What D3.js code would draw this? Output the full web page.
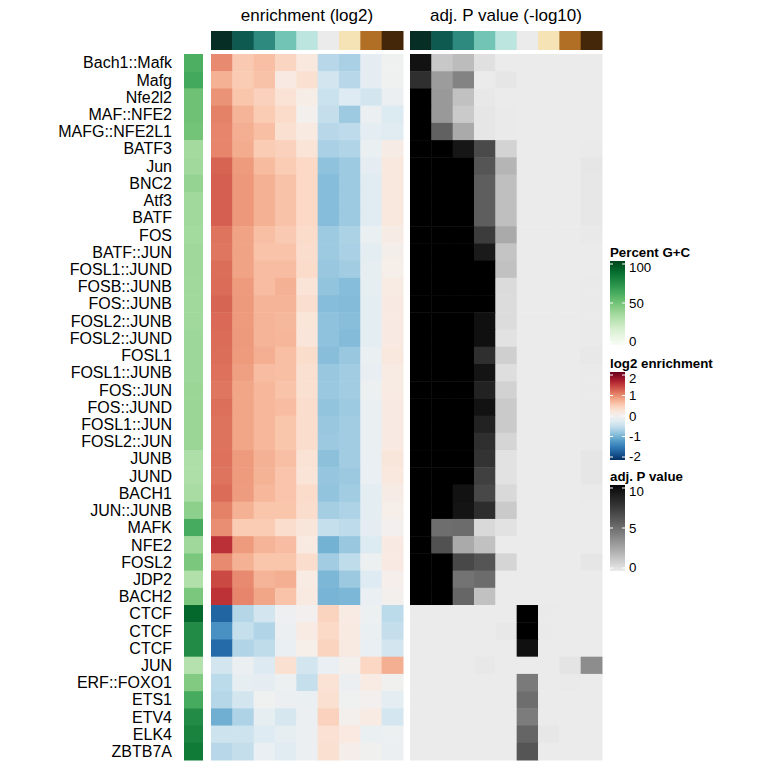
<!DOCTYPE html>
<meta charset="utf-8" />
<head>
  <style>
    body { margin: 0; background: #fff; }
    svg text { font-family: "Liberation Sans", Arial, sans-serif; }
    .rowlab { font-size: 16px; }
    .ttl { font-size: 17px; }
    .legtitle { font-size: 13.3px; font-weight: 700; }
    .leglab { font-size: 13.3px; }
  </style>
</head>
<script src="https://d3js.org/d3.v7.min.js"></script>
<body>
  <div id="chart"></div>
  <script>
    // ---------- data ----------
    const rowNames = [
      "Bach1::Mafk", "Mafg", "Nfe2l2", "MAF::NFE2", "MAFG::NFE2L1", "BATF3", "Jun", "BNC2",
      "Atf3", "BATF", "FOS", "BATF::JUN", "FOSL1::JUND", "FOSB::JUNB", "FOS::JUNB",
      "FOSL2::JUNB", "FOSL2::JUND", "FOSL1", "FOSL1::JUNB", "FOS::JUN", "FOS::JUND",
      "FOSL1::JUN", "FOSL2::JUN", "JUNB", "JUND", "BACH1", "JUN::JUNB", "MAFK", "NFE2",
      "FOSL2", "JDP2", "BACH2", "CTCF", "CTCF", "CTCF", "JUN", "ERF::FOXO1", "ETS1",
      "ETV4", "ELK4", "ZBTB7A"
    ];

    // percent G+C of each motif
    const gcPercent = [
      60, 63, 51, 51, 50, 36, 37, 41, 37, 37, 36.5, 37.5, 37.5, 37, 37, 37, 38, 38, 38,
      39, 39, 39, 39, 33, 33, 35, 43, 62, 37.5, 48, 32, 48, 89, 75, 75, 31, 46, 62, 75, 78, 82
    ];

    // the 9 G+C bins along the columns and their colours
    const colBins = ["b1", "b2", "b3", "b4", "b5", "b6", "b7", "b8", "b9"];
    const binColors = ["#062e25", "#0e5950", "#2e8a7e", "#72c4b5", "#bce5df",
                       "#ebebeb", "#f5e3b6", "#b06f24", "#442708"];

    // log2 enrichment, one row per motif, one value per bin
    const log2enr = [
      [0.95, 0.52, 0.6, 0.42, 0.2, -0.55, -0.65, -0.18, -0.05],
      [0.7, 0.5, 0.58, 0.15, 0.3, -0.35, -0.55, -0.18, -0.05],
      [0.9, 0.55, 0.45, 0.28, 0.1, -0.42, -0.25, -0.35, -0.1],
      [1.0, 0.68, 0.5, 0.35, 0.02, -0.47, -0.72, -0.1, -0.27],
      [0.98, 0.72, 0.6, 0.3, 0.17, -0.55, -0.52, -0.2, -0.22],
      [0.98, 0.74, 0.5, 0.45, 0.25, -0.65, -0.6, -0.12, 0.12],
      [1.18, 0.85, 0.63, 0.5, 0.38, -0.8, -0.72, -0.18, 0.2],
      [1.2, 0.87, 0.7, 0.58, 0.38, -0.85, -0.72, -0.22, 0.2],
      [1.2, 0.87, 0.7, 0.58, 0.38, -0.85, -0.72, -0.22, 0.2],
      [1.2, 0.87, 0.7, 0.58, 0.38, -0.85, -0.72, -0.22, 0.2],
      [1.08, 0.8, 0.6, 0.52, 0.36, -0.72, -0.63, -0.12, 0.12],
      [1.07, 0.8, 0.57, 0.57, 0.33, -0.72, -0.65, -0.19, 0.05],
      [1.12, 0.8, 0.62, 0.62, 0.35, -0.75, -0.7, -0.15, 0.07],
      [1.13, 0.85, 0.62, 0.7, 0.25, -0.78, -0.85, -0.16, 0.13],
      [1.17, 0.86, 0.68, 0.68, 0.32, -0.85, -0.87, -0.19, 0.15],
      [1.14, 0.85, 0.68, 0.65, 0.24, -0.8, -0.84, -0.19, 0.15],
      [1.13, 0.86, 0.68, 0.67, 0.23, -0.8, -0.87, -0.2, 0.15],
      [1.12, 0.85, 0.72, 0.6, 0.34, -0.84, -0.75, -0.12, 0.2],
      [1.1, 0.82, 0.62, 0.6, 0.3, -0.75, -0.7, -0.14, 0.14],
      [1.07, 0.78, 0.66, 0.57, 0.3, -0.74, -0.7, -0.07, 0.14],
      [1.11, 0.78, 0.66, 0.62, 0.33, -0.78, -0.72, -0.11, 0.15],
      [1.09, 0.78, 0.66, 0.55, 0.33, -0.75, -0.7, -0.11, 0.15],
      [1.09, 0.78, 0.66, 0.55, 0.33, -0.73, -0.7, -0.11, 0.15],
      [1.1, 0.85, 0.7, 0.6, 0.27, -0.82, -0.7, -0.13, 0.22],
      [1.08, 0.85, 0.69, 0.56, 0.25, -0.76, -0.73, -0.13, 0.2],
      [1.13, 0.84, 0.66, 0.56, 0.36, -0.78, -0.7, -0.19, 0.12],
      [1.0, 0.7, 0.55, 0.55, 0.33, -0.67, -0.62, -0.19, 0.07],
      [0.93, 0.5, 0.5, 0.33, 0.22, -0.45, -0.52, -0.18, 0.0],
      [1.48, 0.85, 0.68, 0.62, 0.17, -0.95, -0.75, -0.27, 0.15],
      [0.95, 0.7, 0.55, 0.55, 0.33, -0.7, -0.5, -0.07, 0.15],
      [1.33, 0.95, 0.68, 0.72, 0.14, -0.9, -0.73, -0.24, 0.06],
      [1.47, 0.98, 0.78, 0.57, 0.17, -0.93, -0.9, -0.13, 0.02],
      [-1.6, -0.58, -0.35, -0.08, 0.0, 0.43, 0.14, -0.07, -0.53],
      [-1.22, -0.45, -0.6, -0.1, 0.14, 0.37, 0.17, -0.12, -0.47],
      [-1.55, -0.6, -0.5, -0.13, 0.07, 0.43, 0.17, -0.13, -0.35],
      [-0.35, -0.1, -0.26, 0.3, -0.35, -0.13, 0.02, 0.4, 0.72],
      [-0.53, -0.15, -0.18, -0.07, -0.45, 0.27, -0.1, 0.13, -0.03],
      [-0.57, -0.35, -0.05, -0.1, -0.12, 0.3, -0.05, 0.0, -0.19],
      [-0.97, -0.62, -0.17, -0.32, -0.1, 0.44, 0.02, 0.13, -0.34],
      [-0.4, -0.4, -0.25, -0.15, -0.1, 0.29, 0.18, -0.12, -0.07],
      [-0.55, -0.47, -0.13, -0.23, -0.1, 0.3, 0.08, -0.03, -0.1]
    ];

    // adjusted P value (-log10), capped at 10
    const adjP = [
      [9.4, 1.35, 1.8, 0.4, 0, 0, 0, 0, 0],
      [7.9, 3.1, 4.1, 0, 0.2, 0, 0, 0, 0],
      [10, 3.2, 1.6, 0.1, 0, 0, 0, 0, 0],
      [10, 3.2, 1.25, 0.2, 0.05, 0, 0, 0, 0],
      [10, 5.6, 2.5, 0.2, 0.03, 0, 0, 0, 0],
      [10, 10, 9.2, 6.6, 0.9, 0, 0, 0, 0.05],
      [10, 10, 10, 6.1, 2.1, 0, 0, 0, 0.2],
      [10, 10, 10, 5.7, 1.7, 0, 0, 0, 0.15],
      [10, 10, 10, 5.7, 1.7, 0, 0, 0, 0.15],
      [10, 10, 10, 5.7, 1.7, 0, 0, 0, 0.15],
      [10, 10, 10, 7.3, 2.5, 0, 0, 0, 0.07],
      [10, 10, 10, 9.0, 1.5, 0, 0, 0, 0],
      [10, 10, 10, 10, 1.6, 0, 0, 0, 0],
      [10, 10, 10, 10, 0.6, 0, 0, 0, 0.05],
      [10, 10, 10, 10, 0.55, 0, 0, 0, 0.05],
      [10, 10, 10, 9.5, 0.55, 0, 0, 0, 0.05],
      [10, 10, 10, 9.5, 0.35, 0, 0, 0, 0.05],
      [10, 10, 10, 7.9, 1.05, 0, 0, 0, 0.1],
      [10, 10, 10, 9.3, 0.5, 0, 0, 0, 0.05],
      [10, 10, 10, 8.6, 0.95, 0, 0, 0, 0.05],
      [10, 10, 10, 9.4, 1.25, 0, 0, 0, 0.05],
      [10, 10, 10, 8.6, 1.25, 0, 0, 0, 0.05],
      [10, 10, 10, 7.9, 0.85, 0, 0, 0, 0.05],
      [10, 10, 10, 7.7, 0.35, 0, 0, 0, 0.2],
      [10, 10, 10, 7.1, 0.35, 0, 0, 0, 0.2],
      [10, 10, 9.4, 6.7, 0.7, 0, 0, 0, 0.05],
      [10, 10, 9.3, 8.0, 1.25, 0, 0, 0, 0],
      [10, 5.0, 5.1, 0.7, 0.35, 0, 0, 0, 0],
      [10, 6.3, 2.5, 1.6, 0, 0, 0, 0, 0],
      [10, 10, 6.7, 6.1, 0.85, 0, 0, 0, 0.2],
      [10, 10, 4.8, 5.1, 0, 0, 0, 0, 0],
      [10, 10, 5.35, 1.6, 0, 0, 0, 0, 0],
      [0, 0, 0, 0, 0, 10, 0.03, 0, 0],
      [0, 0, 0, 0, 0.1, 10, 0.05, 0, 0],
      [0, 0, 0, 0, 0, 9.5, 0, 0, 0],
      [0, 0, 0, 0.1, 0, 0, 0, 0.25, 3.7],
      [0, 0, 0, 0, 0, 4.5, 0, 0.05, 0],
      [0, 0, 0, 0, 0, 5.0, 0, 0, 0],
      [0, 0, 0, 0, 0, 4.4, 0, 0, 0],
      [0, 0, 0, 0, 0, 5.4, 0.15, 0, 0],
      [0, 0, 0, 0, 0, 6.1, 0, 0, 0]
    ];

    const gcTicks = [0, 50, 100];
    const enrTicks = [-2, -1, 0, 1, 2];
    const pTicks = [0, 5, 10];

    // ---------- layout ----------
    const W = 768, H = 768;
    const bodyTop = 54, bodyBottom = 760;
    const annTop = 31, annBottom = 50;
    const gcX = [184, 203];
    const enrX = [211, 403];
    const pX = [410, 602];
    const labelRight = 172;

    const svg = d3.select("#chart").append("svg")
      .attr("width", W).attr("height", H);

    // ---------- scales ----------
    const rowIdx = d3.range(rowNames.length);
    const y = d3.scaleBand().domain(rowIdx).range([bodyTop, bodyBottom]);
    const xEnr = d3.scaleBand().domain(colBins).range(enrX);
    const xP = d3.scaleBand().domain(colBins).range(pX);

    const gcColor = d3.scaleSequential(d3.interpolateGreens).domain([0, 100]);
    const enrColor = d3.scaleSequential((t) => d3.interpolateRdBu(1 - t)).domain([-2, 2]).clamp(true);
    const pColor = d3.scaleLinear().domain([0, 10]).range(["#ebebeb", "#000000"])
      .interpolate(d3.interpolateLab).clamp(true);
    const binColor = d3.scaleOrdinal().domain(colBins).range(binColors);

    // ---------- row labels ----------
    svg.append("g").selectAll("text")
      .data(rowNames)
      .join("text")
      .attr("class", "rowlab")
      .attr("x", labelRight)
      .attr("y", (d, i) => y(i) + y.bandwidth() / 2)
      .attr("dy", "0.36em")
      .attr("text-anchor", "end")
      .attr("fill", "#000")
      .text((d) => d);

    // ---------- G+C row annotation ----------
    svg.append("g").selectAll("rect")
      .data(gcPercent)
      .join("rect")
      .attr("x", gcX[0])
      .attr("width", gcX[1] - gcX[0])
      .attr("y", (d, i) => y(i))
      .attr("height", y.bandwidth() + 0.5)
      .attr("fill", (d) => gcColor(d));

    // ---------- heatmaps ----------
    function drawHeat(xs, values, color, title) {
      const g = svg.append("g");
      // column annotation
      g.selectAll(".ann")
        .data(colBins)
        .join("rect")
        .attr("class", "ann")
        .attr("x", (d) => xs(d))
        .attr("width", xs.bandwidth() + 0.5)
        .attr("y", annTop)
        .attr("height", annBottom - annTop)
        .attr("fill", (d) => binColor(d));

      const cells = [];
      values.forEach((row, i) => row.forEach((v, j) => cells.push({ i, j, v })));
      g.selectAll(".cell")
        .data(cells)
        .join("rect")
        .attr("class", "cell")
        .attr("x", (d) => xs(colBins[d.j]))
        .attr("width", xs.bandwidth() + 0.5)
        .attr("y", (d) => y(d.i))
        .attr("height", y.bandwidth() + 0.5)
        .attr("fill", (d) => color(d.v));

      g.append("text")
        .attr("class", "ttl")
        .attr("x", (xs.range()[0] + xs.range()[1]) / 2)
        .attr("y", 21)
        .attr("text-anchor", "middle")
        .text(title);
    }
    drawHeat(xEnr, log2enr, enrColor, "enrichment (log2)");
    drawHeat(xP, adjP, pColor, "adj. P value (-log10)");

    // ---------- legends ----------
    const legX = 610, barW = 15;
    function drawLegend(id, top, title, color, domain, ticks, barH) {
      const g = svg.append("g");
      g.append("text")
        .attr("class", "legtitle")
        .attr("x", legX)
        .attr("y", top)
        .text(title);

      const barTop = top + 4;
      const barBottom = barTop + barH;

      const grad = svg.append("defs").append("linearGradient")
        .attr("id", id)
        .attr("x1", 0).attr("y1", 1).attr("x2", 0).attr("y2", 0);
      d3.range(0, 1.0001, 0.05).forEach((t) => {
        grad.append("stop")
          .attr("offset", t)
          .attr("stop-color", color(domain[0] + t * (domain[1] - domain[0])));
      });

      // tick positions sit a little inside the bar ends
      const ly = d3.scaleLinear().domain(domain).range([barBottom - 3, barTop + 3]);
      g.append("rect")
        .attr("x", legX).attr("y", barTop)
        .attr("width", barW).attr("height", barH)
        .attr("fill", `url(#${id})`);

      // white tick marks on both edges of the bar
      ticks.forEach((t) => {
        [[legX, legX + 3], [legX + barW - 3, legX + barW]].forEach((xx) => {
          g.append("line")
            .attr("x1", xx[0]).attr("x2", xx[1])
            .attr("y1", ly(t)).attr("y2", ly(t))
            .attr("stroke", "#fff").attr("stroke-width", 1);
        });
      });

      // labels are kept within the vertical span of the bar
      g.selectAll(".leglab")
        .data(ticks)
        .join("text")
        .attr("class", "leglab")
        .attr("x", legX + barW + 4)
        .attr("y", (d) => Math.min(Math.max(ly(d), barTop + 6), barBottom - 4))
        .attr("dy", "0.36em")
        .text((d) => d);
    }
    drawLegend("gcGrad", 257, "Percent G+C", gcColor, [0, 100], gcTicks, 84);
    drawLegend("enrGrad", 368, "log2 enrichment", enrColor, [-2, 2], enrTicks, 88);
    drawLegend("pGrad", 481, "adj. P value", pColor, [0, 10], pTicks, 86);
  </script>
</body>
